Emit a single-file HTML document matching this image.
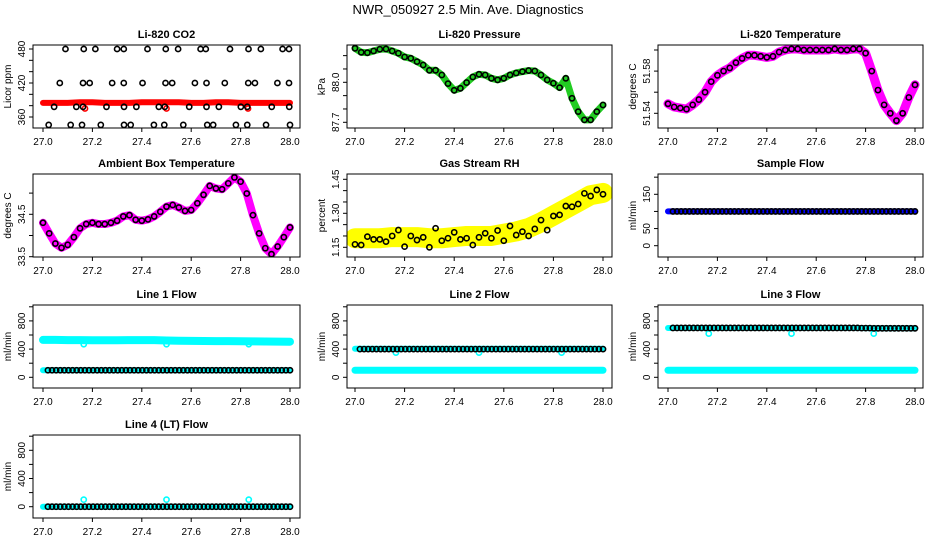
<!DOCTYPE html>
<html><head><meta charset="utf-8"><style>
html,body{margin:0;padding:0;background:#fff;}
svg{display:block;font-family:"Liberation Sans",Arial,sans-serif;}
</style></head><body>
<svg id="chart" width="936" height="540" viewBox="0 0 936 540">
<text x="468" y="14" text-anchor="middle" font-size="13">NWR_050927  2.5 Min. Ave. Diagnostics</text>
</svg>
<script>
// ---- data ----
const xTickLabels = ["27.0","27.2","27.4","27.6","27.8","28.0"];
const xTicks = [27.0,27.2,27.4,27.6,27.8,28.0];
// CO2
const co2Times = [27.091,27.165,27.212,27.3,27.327,27.423,27.497,27.547,27.638,27.659,27.757,27.832,27.882,27.97,27.996,
 27.068,27.162,27.189,27.28,27.327,27.403,27.496,27.523,27.615,27.662,27.736,27.831,27.858,27.949,27.996,
 27.045,27.135,27.162,27.257,27.328,27.378,27.469,27.493,27.592,27.662,27.712,27.801,27.827,27.926,27.997,
 27.023,27.112,27.158,27.234,27.328,27.355,27.449,27.491,27.568,27.665,27.689,27.781,27.827,27.903,28.0];
const co2Values = [480,480,480,480,480,480,480,480,480,480,480,480,480,480,480,
 420,420,420,420,420,420,420,420,420,420,420,420,420,420,420,
 378,378,378,378,378,378,378,378,378,378,378,378,378,378,378,
 346,346,346,346,346,346,346,346,346,346,346,346,346,346,346];
const co2Band = [385,385,385,386,386,385,385,385,386,386,386,386,385,385,386,386,385,385,385,385,385];
const co2Dips = [[27.17,375],[27.5,375],[27.83,375]];
// Pressure
const pressure = [88.255,88.225,88.222,88.235,88.248,88.25,88.235,88.218,88.19,88.18,88.155,88.13,88.09,88.09,88.055,87.99,87.94,87.955,87.998,88.04,88.06,88.055,88.03,88.018,88.03,88.055,88.07,88.08,88.088,88.085,88.055,88.018,87.993,87.96,88.03,87.88,87.78,87.718,87.718,87.78,87.83];
// Li-820 temperature
const liTemp = [51.549,51.546,51.545,51.544,51.548,51.553,51.560,51.570,51.576,51.580,51.583,51.588,51.592,51.595,51.595,51.594,51.593,51.594,51.598,51.600,51.601,51.601,51.600,51.600,51.600,51.600,51.600,51.601,51.600,51.600,51.601,51.601,51.597,51.580,51.562,51.548,51.540,51.533,51.540,51.555,51.567];
// Ambient box temperature
const boxTemp = [34.30,34.05,33.81,33.71,33.78,33.96,34.17,34.27,34.30,34.27,34.27,34.30,34.35,34.45,34.48,34.37,34.35,34.38,34.45,34.56,34.68,34.72,34.66,34.58,34.60,34.76,34.96,35.17,35.11,35.09,35.23,35.37,35.27,34.99,34.48,34.05,33.70,33.56,33.74,33.96,34.19];
// Gas stream RH
const rhBand = [1.19,1.19,1.19,1.195,1.195,1.195,1.19,1.19,1.195,1.2,1.2,1.2,1.21,1.22,1.235,1.26,1.29,1.32,1.35,1.38,1.39];
const rhPoints = [1.163,1.16,1.197,1.185,1.185,1.175,1.20,1.226,1.153,1.20,1.182,1.194,1.15,1.234,1.179,1.19,1.216,1.185,1.19,1.16,1.194,1.212,1.19,1.224,1.179,1.244,1.204,1.219,1.20,1.231,1.27,1.226,1.288,1.293,1.332,1.329,1.341,1.388,1.376,1.403,1.384];
// Flows
const sampleFlow = [100,100,100,100,100,100,100,100,100,100,100,100,100,100,100,100,100,100,100,100,100];
const line1Upper = [530,530,528,527,526,525,525,527,528,527,522,518,516,515,514,513,512,510,508,506,505];
const line1Lower = [100,100,100,100,100,100,100,100,100,100,100,100,100,100,100,100,100,100,100,100,100];
const line1Black = [100,100,100,100,100,100,100,100,100,100,100,100,100,100,100,100,100,100,100,100,100];
const line2Upper = [405,405,405,405,405,405,405,405,405,405,405,405,405,405,405,405,405,405,405,405,405];
const line2Lower = [100,100,100,100,100,100,100,100,100,100,100,100,100,100,100,100,100,100,100,100,100];
const line2Black = [400,400,400,400,400,400,400,400,400,400,400,400,400,400,400,400,400,400,400,400,400];
const line3Upper = [700,700,700,700,700,700,700,700,700,700,700,700,700,700,700,700,698,695,695,695,695];
const line3Lower = [100,100,100,100,100,100,100,100,100,100,100,100,100,100,100,100,100,100,100,100,100];
const line3Black = [700,700,700,700,700,700,700,700,700,700,700,700,700,700,700,700,698,695,695,695,695];
const line4Cyan = [0,0,0,0,0,0,0,0,0,0,0,0,0,0,0,0,0,0,0,0,0];
const line4Black = [0,0,0,0,0,0,0,0,0,0,0,0,0,0,0,0,0,0,0,0,0];
const dipTimes = [27.165,27.5,27.833];
const line1Dips = [470,470,470];
const line2Dips = [350,350,350];
const line3Dips = [620,620,620];
const line4Spikes = [100,100,100];

// ---- drawing ----
const NS = "http://www.w3.org/2000/svg";
const svg = document.getElementById("chart");
function el(tag, attrs, parent){
  const e = document.createElementNS(NS, tag);
  for (const k in attrs) e.setAttribute(k, attrs[k]);
  (parent||svg).appendChild(e);
  return e;
}
const cols = [{x0:43,x1:290,bl:33,br:300},{x0:355,x1:603,bl:347,br:612},{x0:668,x1:915,bl:658,br:923}];
const rowTops = [45,174,305,435];
const BH = 83;

function makePanel(col,row,title,ytitle,v1,p1,v2,p2,ticks,labels,name){
  const c = cols[col], top = rowTops[row] + (row===0?0:0), bot = top+BH;
  const g = el("g",{});
  
  
  const off = rowTops[row]-rowTops[row];
  const sx = v => c.x0 + (v-27)*(c.x1-c.x0);
  const sy = v => p1 + (v-v1)*(p2-p1)/(v2-v1);
  const clip = "clip-"+name;
  const cp = el("clipPath",{id:clip},g); el("rect",{x:c.bl,y:top,width:c.br-c.bl,height:BH},cp);
  const plot = el("g",{"clip-path":"url(#"+clip+")"},g);
  
  
  const box = el("rect",{x:c.bl,y:top,width:c.br-c.bl,height:BH,fill:"none",stroke:"#000","stroke-width":1},g);
  
  
  const t = el("text",{x:(c.bl+c.br)/2,y:top-7,"text-anchor":"middle","font-size":11,"font-weight":"bold"},g);
  t.textContent = title;
  
  
  // x axis
  xTicks.forEach((v,i)=>{
    el("line",{x1:sx(v),x2:sx(v),y1:bot,y2:bot+4,stroke:"#000"},g);
    const l = el("text",{x:sx(v),y:bot+17,"text-anchor":"middle","font-size":10},g);
    l.textContent = xTickLabels[i];
    
    
  });
  // y axis
  ticks.forEach(v=>{
    el("line",{x1:c.bl-4,x2:c.bl,y1:sy(v),y2:sy(v),stroke:"#000"},g);
  });
  labels.forEach(v=>{
    const y = sy(v), x = c.bl-8;
    const l = el("text",{x:x,y:y,"text-anchor":"middle","font-size":10,transform:"rotate(-90 "+x+" "+y+")"},g);
    l.textContent = String(v);
    
    
  });
  const yx = c.bl-22, yy = (top+bot)/2;
  const yt = el("text",{x:yx,y:yy,"text-anchor":"middle","font-size":10,transform:"rotate(-90 "+yx+" "+yy+")"},g);
  yt.textContent = ytitle;
  
  
  return {sx,sy,plot};
}
function band(p,vals,color,w,name){
  const pts = vals.map((v,i)=>p.sx(27+i/(vals.length-1))+","+p.sy(v)).join(" ");
  const e = el("polyline",{points:pts,fill:"none",stroke:color,"stroke-width":w,"stroke-linejoin":"round","stroke-linecap":"round"},p.plot);
  
  
}
function circlesEven(p,vals,color,name,n){
  // points at evenly spaced sample times, value stepwise from the array
  const N = n||vals.length;
  for(let i=0;i<N;i++){
    const t = i/(N-1);
    const v = vals[Math.round(t*(vals.length-1))];
    const c = el("circle",{cx:p.sx(27.02+t*0.98),cy:p.sy(v),r:2.6,fill:"none",stroke:color,"stroke-width":1.6},p.plot);
    
    
  }
}
function circlesAt(p,times,vals,color,name){
  times.forEach((tm,i)=>{
    const c = el("circle",{cx:p.sx(tm),cy:p.sy(vals[i]),r:2.6,fill:"none",stroke:color,"stroke-width":1.6},p.plot);
    
    
  });
}
function circlesSeries(p,vals,color,name){
  vals.forEach((v,i)=>{
    const c = el("circle",{cx:p.sx(27+i/(vals.length-1)),cy:p.sy(v),r:2.6,fill:"none",stroke:color,"stroke-width":1.6},p.plot);
    
    
  });
}
const flowTicks=[0,200,400,600,800,1000], flowLabels=[0,400,800];

// Row 1
let p = makePanel(0,0,"Li-820 CO2","Licor ppm",360,117,480,49,[360,380,400,420,440,460,480],[360,420,480],"co2-panel");
band(p,co2Band,"#ff0000",6,"co2-band");
circlesAt(p,co2Dips.map(d=>d[0]),co2Dips.map(d=>d[1]),"#ff0000","co2-red-point");
circlesAt(p,co2Times,co2Values,"#000","co2-point");

p = makePanel(1,0,"Li-820 Pressure","kPa",88.0,82.3,87.7,122.3,[87.7,87.8,87.9,88.0,88.1,88.2],["87.7","88.0"],"pressure-panel");
band(p,pressure,"#22cc22",7,"pressure-band");
circlesSeries(p,pressure,"#000","pressure-point");

p = makePanel(2,0,"Li-820 Temperature","degrees C",51.54,113.3,51.60,50,[51.54,51.56,51.58,51.60],["51.54","51.58"],"li-temp-panel");
band(p,liTemp,"#ff00ff",9,"li-temp-band");
circlesSeries(p,liTemp,"#000","li-temp-point");

// Row 2
p = makePanel(0,1,"Ambient Box Temperature","degrees C",33.5,256.7,34.5,214.3,[33.5,34.0,34.5,35.0],["33.5","34.5"],"box-temp-panel");
band(p,boxTemp,"#ff00ff",8,"box-temp-band");
circlesSeries(p,boxTemp,"#000","box-temp-point");

p = makePanel(1,1,"Gas Stream RH","percent",1.15,247.3,1.45,179.3,[1.15,1.2,1.25,1.3,1.35,1.4,1.45],["1.15","1.30","1.45"],"rh-panel");
band(p,rhBand,"#ffff00",20,"rh-band");
circlesSeries(p,rhPoints,"#000","rh-point");

p = makePanel(2,1,"Sample Flow","ml/min",0,245.7,150,194.3,[0,50,100,150,200],[0,50,150],"sample-flow-panel");
band(p,sampleFlow,"#0000ff",6,"sample-flow-band");
circlesEven(p,sampleFlow,"#000","sample-flow-point",60);

// Row 3
p = makePanel(0,2,"Line 1 Flow","ml/min",0,377.3,200,363.2,flowTicks,flowLabels,"line1-flow-panel");
band(p,line1Upper,"#00ffff",8,"line1-upper-band");
band(p,line1Lower,"#00ffff",6,"line1-lower-band");
circlesAt(p,dipTimes,line1Dips,"#00ffff","line1-dip");
circlesEven(p,line1Black,"#000","line1-point",60);

p = makePanel(1,2,"Line 2 Flow","ml/min",0,377.3,200,363.2,flowTicks,flowLabels,"line2-flow-panel");
band(p,line2Upper,"#00ffff",6,"line2-upper-band");
band(p,line2Lower,"#00ffff",7,"line2-lower-band");
circlesAt(p,dipTimes,line2Dips,"#00ffff","line2-dip");
circlesEven(p,line2Black,"#000","line2-point",60);

p = makePanel(2,2,"Line 3 Flow","ml/min",0,377.3,200,363.2,flowTicks,flowLabels,"line3-flow-panel");
band(p,line3Upper,"#00ffff",6,"line3-upper-band");
band(p,line3Lower,"#00ffff",7,"line3-lower-band");
circlesAt(p,dipTimes,line3Dips,"#00ffff","line3-dip");
circlesEven(p,line3Black,"#000","line3-point",60);

// Row 4
p = makePanel(0,3,"Line 4 (LT) Flow","ml/min",0,506.7,200,492.6,flowTicks,flowLabels,"line4-flow-panel");
band(p,line4Cyan,"#00ffff",6,"line4-band");
circlesAt(p,dipTimes,line4Spikes,"#00ffff","line4-spike");
circlesEven(p,line4Black,"#000","line4-point",60);
</script>
</body></html>
